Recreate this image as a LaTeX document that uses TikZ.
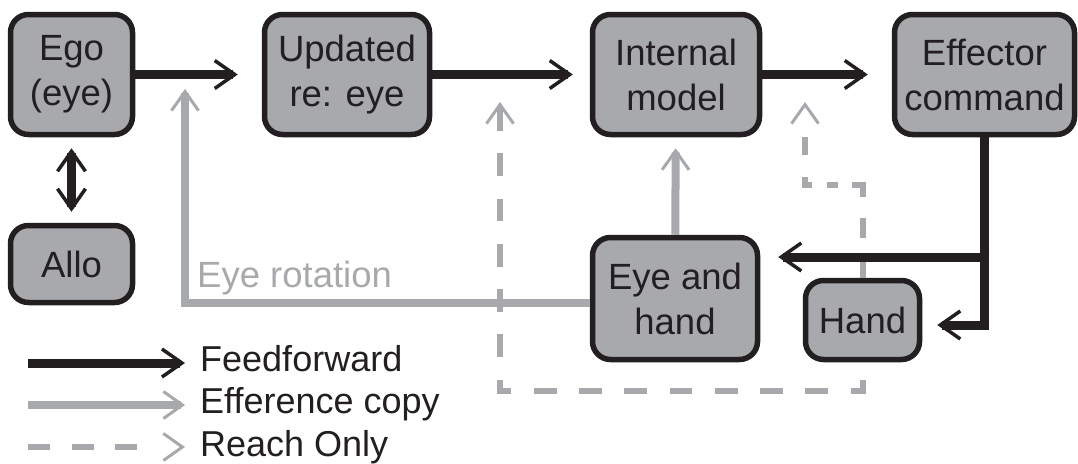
\documentclass[tikz,border=0pt]{standalone}
\usepackage{fontspec}
\setmainfont{Liberation Sans}
\usetikzlibrary{arrows.meta,calc}
\definecolor{ink}{HTML}{231F20}
\definecolor{lgray}{HTML}{A7A9AC}
\begin{document}
\begin{tikzpicture}[x=1pt,y=-1pt,
  box/.style={draw=ink, line width=5.5pt, fill=lgray, rounded corners=18pt,
    inner sep=0pt, align=center, text=ink, font=\fontsize{36.5}{45}\selectfont},
  ktip/.style={-{Straight Barb[length=20pt,width=28pt,line width=3.5pt]}},
  gtip/.style={-{Straight Barb[length=19pt,width=27pt,line width=3pt]}},
  ff/.style={draw=ink, line width=9pt, line join=miter, ktip},
  ffboth/.style={draw=ink, line width=9pt,
    {Straight Barb[length=20pt,width=28pt,line width=3.5pt]}-{Straight Barb[length=20pt,width=28pt,line width=3.5pt]}},
  ec/.style={draw=lgray, line width=8pt, line join=miter, gtip},
  ro/.style={draw=lgray, line width=6pt, line join=miter, gtip},
  legtext/.style={anchor=base west, inner sep=0pt, text=ink, font=\fontsize{36}{43}\selectfont}
]
\useasboundingbox (0,0) rectangle (1078,463);

% boxes
\node[box, minimum width=122pt, minimum height=120pt] (ego)  at (71.5,74.5)  {Ego\\(eye)};
\node[box, minimum width=122pt, minimum height=77pt]  (allo) at (71.5,264)   {Allo};
\node[box, minimum width=165pt, minimum height=120pt] (upd)  at (347,74.5)   {Updated\\re: eye};
\node[box, minimum width=167pt, minimum height=120pt] (intm) at (676,74.5)   {Internal\\model};
\node[box, minimum width=180pt, minimum height=120pt] (eff)  at (984.5,74.5) {Effector\\command};
\node[box, minimum width=165pt, minimum height=122pt] (eh)   at (675,298.5)  {Eye and\\hand};
\node[box, minimum width=114pt, minimum height=79pt]  (hand) at (862.5,320)  {Hand};

% reach-only paths (dashed)
\coordinate (ra)  at (805,185);
\coordinate (rat) at (805,102);
\draw[ro, dash pattern=on 25pt off 15pt on 20pt off 21pt on 22pt off 14pt on 11pt off 15pt on 15pt off 22pt on 18pt off 40pt]
  (hand.north) |- (ra) -- (rat);
\coordinate (rb)  at (500,391);
\coordinate (rbt) at (500,102);
\draw[ro, dash pattern=on 22.6pt off 22.65pt, dash phase=27.25pt]
  (hand.south) |- (rb) -- (rbt);

% efference copies
\coordinate (erc) at (185,303);
\coordinate (ert) at (185,89);
\draw[ec] (eh.west |- erc) -- (erc) -- (ert);
\draw[ec, shorten >=11pt] (eh) -- (intm);
\node[anchor=base west, inner sep=0pt, text=lgray, font=\fontsize{36.5}{45}\selectfont] (erlab) at (197,287) {Eye rotation};

% feedforward
\draw[ff, shorten >=24pt] (ego) -- (upd);
\draw[ff, shorten >=17pt] (upd) -- (intm);
\draw[ff, shorten >=24pt] (intm) -- (eff);
\draw[ffboth, shorten >=11pt, shorten <=11pt] (ego) -- (allo);
\coordinate (jy) at (0,257);
\coordinate (jn) at (eff.south |- jy);
\coordinate (hy) at (0,325);
\draw[ff, shorten >=15pt] (eff.south) |- (hand.east |- hy);
\draw[ff, shorten >=18pt] (jn) -- (jn -| eh.east);

% legend
\coordinate (l1a) at (28,363);  \coordinate (l1b) at (185,363);
\coordinate (l2a) at (28,405);  \coordinate (l2b) at (185,405);
\coordinate (l3a) at (28,447);  \coordinate (l3b) at (185,447);
\draw[ff] (l1a) -- (l1b);
\draw[ec] (l2a) -- (l2b);
\draw[ro, dash pattern=on 22pt off 21.5pt on 22pt off 21.5pt on 22pt off 60pt] (l3a) -- (l3b);
\node[legtext] (lg1) at (200,371) {Feedforward};
\node[legtext] (lg2) at (200,413) {Efference copy};
\node[legtext] (lg3) at (200,456) {Reach Only};
\end{tikzpicture}
\end{document}
